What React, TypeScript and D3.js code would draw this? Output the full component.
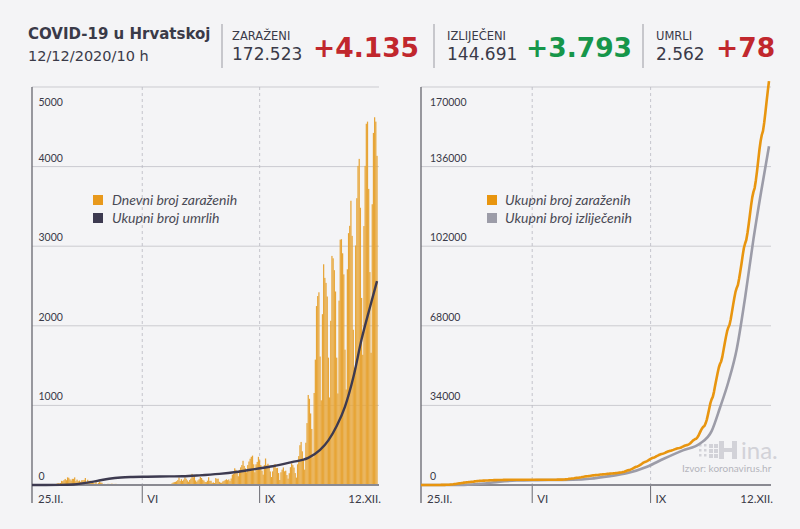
import React from 'react';
import * as d3 from 'd3';

// ---------- DATA ----------
const startDate = '2020-02-25';
const endDate = '2020-12-12';
const feb = [1, 2, 0, 0, 0];
const mar = [2, 0, 0, 1, 1, 0, 1, 0, 1, 1, 7, 4, 13, 11, 6, 8, 16, 24, 20, 25, 52, 48, 61, 76, 60, 96, 91, 71, 56, 77, 77];
const apr = [96, 48, 68, 47, 56, 40, 60, 61, 64, 88, 39, 66, 50, 54, 37, 50, 23, 18, 39, 10, 27, 42, 31, 28, 7, 14, 9, 8, 15, 14];
const may = [13, 16, 15, 11, 14, 14, 8, 6, 3, 2, 3, 7, 4, 2, 5, 3, 2, 1, 0, 1, 2, 0, 1, 0, 2, 1, 1, 2, 0, 0, 0];
const jun = [1, 1, 1, 0, 1, 0, 0, 0, 1, 0, 2, 2, 0, 2, 1, 1, 3, 2, 3, 7, 7, 19, 30, 36, 40, 48, 62, 95, 50, 73];
const jul = [52, 68, 96, 79, 58, 41, 63, 80, 140, 97, 116, 57, 40, 58, 72, 101, 88, 66, 56, 38, 37, 54, 97, 52, 53, 27, 32, 25, 87, 76, 80];
const aug = [40, 30, 28, 45, 52, 62, 72, 61, 70, 49, 82, 130, 140, 210, 190, 160, 110, 190, 222, 250, 304, 240, 210, 160, 250, 295, 330, 354, 369, 260, 160];
const sep = [260, 290, 354, 310, 250, 180, 130, 250, 333, 248, 267, 240, 170, 100, 171, 225, 262, 212, 215, 150, 63, 160, 193, 221, 172, 180, 125, 80, 148, 224];
const oct = [271, 250, 219, 150, 93, 260, 363, 500, 541, 423, 322, 193, 531, 778, 1131, 1083, 899, 704, 348, 1156, 1575, 2248, 2374, 2421, 1614, 1064, 2146, 2773, 2602, 2539, 2368];
const nov = [1600, 1100, 2063, 2878, 2848, 2699, 2431, 1600, 1150, 2316, 3082, 3088, 2911, 2646, 1700, 1200, 2710, 3164, 3256, 3571, 3130, 1950, 1474, 3009, 3603, 4009, 4097, 3483, 2350, 1636];
const dec = [3253, 4009, 4538, 4565, 3720, 2675, 1661, 3527, 4423, 4620, 4565, 4135];

const deathsTotal: [string, number][] = [
  ['2020-02-25', 0], ['2020-03-20', 1], ['2020-03-31', 6], ['2020-04-10', 27], ['2020-04-20', 52],
  ['2020-04-30', 79], ['2020-05-10', 95], ['2020-05-20', 101], ['2020-06-01', 104], ['2020-06-20', 108],
  ['2020-07-01', 110], ['2020-07-15', 121], ['2020-08-01', 140], ['2020-08-15', 163], ['2020-09-01', 203],
  ['2020-09-15', 235], ['2020-10-01', 288], ['2020-10-15', 340], ['2020-10-25', 440], ['2020-11-01', 560],
  ['2020-11-08', 740], ['2020-11-15', 985], ['2020-11-22', 1350], ['2020-11-29', 1830], ['2020-12-06', 2230],
  ['2020-12-12', 2562],
];

const recoveredTotal: [string, number][] = [
  ['2020-02-25', 0], ['2020-03-20', 5], ['2020-04-01', 70], ['2020-04-15', 500], ['2020-05-01', 1450],
  ['2020-05-15', 1900], ['2020-06-01', 2080], ['2020-06-20', 2150], ['2020-07-01', 2250], ['2020-07-15', 2700],
  ['2020-08-01', 3800], ['2020-08-15', 5000], ['2020-09-01', 7800], ['2020-09-15', 11200], ['2020-10-01', 14800],
  ['2020-10-15', 17600], ['2020-10-25', 23000], ['2020-11-01', 33000], ['2020-11-08', 44000], ['2020-11-15', 58000],
  ['2020-11-22', 80000], ['2020-11-29', 105000], ['2020-12-06', 127000], ['2020-12-12', 144691],
];

const leftTicks = [0, 1000, 2000, 3000, 4000, 5000];
const rightTicks = [0, 34000, 68000, 102000, 136000, 170000];
const monthTickDates = ['2020-05-28', '2020-09-04'];
const monthTickLabels = ['VI', 'IX'];
const edgeLabels = ['25.II.', '12.XII.'];

const headerLabels = ['ZARAŽENI', 'IZLIJEČENI', 'UMRLI'];
const headerTotals = ['172.523', '144.691', '2.562'];
const headerDeltas = ['+4.135', '+3.793', '+78'];

const leftLegend = ['Dnevni broj zaraženih', 'Ukupni broj umrlih'];
const rightLegend = ['Ukupni broj zaraženih', 'Ukupni broj izliječenih'];

// ---------- STYLE ----------
const HFONT = '"DejaVu Sans", Verdana, sans-serif';
const FONT = 'Lato, "Open Sans", sans-serif';
const BG = '#f4f4f6';
const TXT = '#3a3a48';
const ORANGE_BAR = '#e7a537';
const ORANGE = '#e8950f';
const GREY = '#9c9ca8';
const DARK = '#3d3a50';
const RED = '#c1272d';
const GREEN = '#16964a';
const GRID = '#cbcbd0';

const parse = d3.timeParse('%Y-%m-%d');

export default function App() {
  const daily = [...feb, ...mar, ...apr, ...may, ...jun, ...jul, ...aug, ...sep, ...oct, ...nov, ...dec];
  const d0 = parse(startDate) as Date;
  const d1 = parse(endDate) as Date;
  const dates = daily.map((_, i) => d3.timeDay.offset(d0, i));
  const cumulative = Array.from(d3.cumsum(daily));
  const monthDates = monthTickDates.map((s) => parse(s) as Date);

  const yTop = 87;
  const yBase = 485;

  const xL = d3.scaleTime().domain([d0, d1]).range([32, 377]);
  const xR = d3.scaleTime().domain([d0, d1]).range([421, 769]);
  const yL = d3.scaleLinear().domain([0, 5000]).range([yBase, yTop]);
  const yR = d3.scaleLinear().domain([0, 170000]).range([yBase, yTop]);

  const step = xL(dates[1]) - xL(dates[0]);
  const bw = step + 0.05;

  const deathLine = d3
    .line<[string, number]>()
    .x((d) => xL(parse(d[0]) as Date))
    .y((d) => yL(d[1]))
    .curve(d3.curveMonotoneX);

  const casesLine = d3
    .line<number>()
    .x((_, i) => xR(dates[i]))
    .y((d) => yR(d));

  const recLine = d3
    .line<[string, number]>()
    .x((d) => xR(parse(d[0]) as Date))
    .y((d) => yR(d[1]))
    .curve(d3.curveMonotoneX);

  const panel = (
    x: d3.ScaleTime<number, number>,
    y: d3.ScaleLinear<number, number>,
    ticks: number[],
    labelOffset: number,
    key: string
  ) => {
    const [x0, x1] = x.range();
    const xEnd = x1 + 2;
    return (
      <g key={key}>
        {ticks.map((t) => (
          <line key={'g' + t} x1={x0} x2={xEnd} y1={y(t)} y2={y(t)} stroke={GRID} strokeWidth={1} />
        ))}
        {monthDates.map((d, i) => (
          <line key={'v' + i} x1={x(d)} x2={x(d)} y1={yTop} y2={yBase} stroke="#b9b9c2" strokeWidth={0.8} strokeDasharray="3,3" />
        ))}
        {ticks.map((t, i) => (
          <text
            key={'l' + t}
            x={x0 + labelOffset}
            y={i === ticks.length - 1 ? y(t) + 19 : y(t) - 5}
            fontSize={10.5}
            fill={TXT}
            fontFamily={FONT}
          >
            {t}
          </text>
        ))}
        {monthDates.map((d, i) => (
          <g key={'xt' + i}>
            <line x1={x(d)} x2={x(d)} y1={yBase} y2={503} stroke="#6a6a72" strokeWidth={1} />
            <text x={x(d) + 5} y={503} fontSize={11.5} fill={TXT} fontFamily={FONT}>
              {monthTickLabels[i]}
            </text>
          </g>
        ))}
        <text x={x0 + 6} y={503} fontSize={11.5} fill={TXT} fontFamily={FONT}>
          {edgeLabels[0]}
        </text>
        <text x={xEnd + 2} y={503} fontSize={11.5} fill={TXT} fontFamily={FONT} textAnchor="end">
          {edgeLabels[1]}
        </text>
      </g>
    );
  };

  const axes = (x: d3.ScaleTime<number, number>, key: string) => {
    const [x0, x1] = x.range();
    return (
      <g key={key}>
        <line x1={x0} x2={x0} y1={yTop} y2={503} stroke="#66666e" strokeWidth={1.3} />
        <line x1={x0} x2={x1 + 2} y1={yBase} y2={yBase} stroke="#8a8a92" strokeWidth={2} />
      </g>
    );
  };

  const headerX = [232, 447, 656];
  const deltaX = [313, 526, 716];
  const deltaColors = [RED, GREEN, RED];

  return (
    <svg width={800} height={529} style={{ position: 'absolute', left: 0, top: 0 }}>
      <rect x={0} y={0} width={800} height={529} fill={BG} />

      {/* header */}
      <text x={28} y={39} fontSize={15} fontWeight={700} fill={TXT} fontFamily={HFONT}>
        COVID-19 u Hrvatskoj
      </text>
      <text x={28} y={61} fontSize={14.5} fill={TXT} fontFamily={HFONT}>
        12/12/2020/10 h
      </text>
      {[222, 434, 643].map((sx) => (
        <line key={sx} x1={sx} x2={sx} y1={24} y2={68} stroke="#9a9aa2" strokeWidth={1} />
      ))}
      {headerLabels.map((l, i) => (
        <g key={l}>
          <text x={headerX[i]} y={39.5} fontSize={11.5} fill={TXT} fontFamily={HFONT}>
            {l}
          </text>
          <text x={headerX[i]} y={60} fontSize={17} fill={TXT} fontFamily={HFONT}>
            {headerTotals[i]}
          </text>
          <text x={deltaX[i]} y={57} fontSize={26.5} fill={deltaColors[i]} fontFamily={HFONT} fontWeight={700}>
            {headerDeltas[i]}
          </text>
        </g>
      ))}

      {/* left panel */}
      {panel(xL, yL, leftTicks, 6.5, 'pl')}
      <g>
        {daily.map((v, i) => (
          <rect key={i} x={xL(dates[i]) - bw / 2} y={yL(v)} width={bw} height={yBase - yL(v)} fill={ORANGE_BAR} />
        ))}
      </g>
      {axes(xL, 'al')}
      <path d={deathLine(deathsTotal) || ''} fill="none" stroke={DARK} strokeWidth={2.4} strokeLinejoin="round" />
      {leftLegend.map((t, i) => (
        <g key={t}>
          <rect x={93} y={195 + i * 18} width={10} height={10} fill={i === 0 ? '#e8991c' : DARK} />
          <text x={112} y={205 + i * 18} fontSize={14} fontStyle="italic" fill="#4a4a55" fontFamily={FONT}>
            {t}
          </text>
        </g>
      ))}

      {/* right panel */}
      {panel(xR, yR, rightTicks, 9, 'pr')}
      <g fill="#d2d2d8">
        {[0, 1, 2].map((r) =>
          [0, 1, 2, 3].map((c) => (
            <rect key={r + '-' + c} x={699 + c * 5} y={444 + r * 5} width={c < 2 ? 2.5 : 4} height={c < 2 ? 2.5 : 4} />
          ))
        )}
        <rect x={719} y={441} width={5} height={18} />
        <rect x={732} y={441} width={5} height={18} />
        <rect x={723} y={448} width={10} height={4} />
        <text x={741} y={459} fontSize={24} fontFamily={FONT}>
          ina.
        </text>
      </g>
      <text x={682} y={472} fontSize={10} fill="#b4b4bc" fontFamily={FONT}>
        Izvor: koronavirus.hr
      </text>
      {axes(xR, 'ar')}
      <path d={recLine(recoveredTotal) || ''} fill="none" stroke={GREY} strokeWidth={2.6} strokeLinejoin="round" />
      <path d={casesLine(cumulative) || ''} fill="none" stroke={ORANGE} strokeWidth={2.6} strokeLinejoin="round" />
      {rightLegend.map((t, i) => (
        <g key={t}>
          <rect x={487} y={195 + i * 18} width={10} height={10} fill={i === 0 ? ORANGE : GREY} />
          <text x={505} y={205 + i * 18} fontSize={14} fontStyle="italic" fill="#4a4a55" fontFamily={FONT}>
            {t}
          </text>
        </g>
      ))}
    </svg>
  );
}
